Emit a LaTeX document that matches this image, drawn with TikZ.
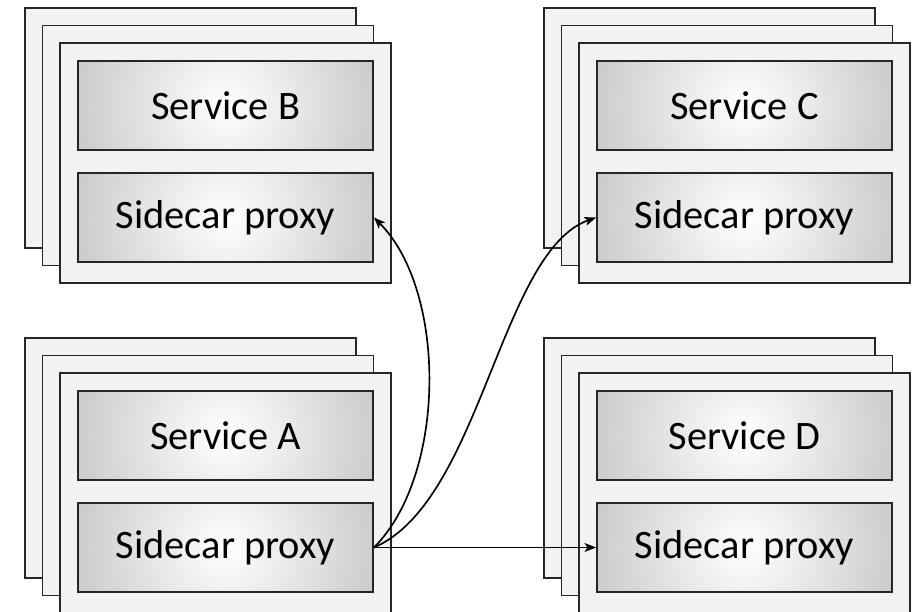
\documentclass[tikz,border=0pt]{standalone}
\usepackage{fontspec}
\setmainfont{Carlito}
\usetikzlibrary{arrows.meta}

\tikzset{
  card/.style={draw=black!85, fill=black!5, line width=1.1pt},
  unit/.style={draw=black!85, line width=1.1pt,
    minimum width=5.9cm, minimum height=1.78cm, inner sep=0pt,
    font=\fontsize{23}{28}\selectfont,
    path picture={\shade[inner color=white, outer color=black!36]
      (path picture bounding box.center) circle (270);}},
  link/.style={line width=0.95pt, -{Stealth[length=6.5pt,width=5pt,inset=1.6pt]}}
}

\begin{document}
\begin{tikzpicture}[x=0.02cm, y=-0.02cm, line join=miter]
  \clip (0,0) rectangle (918,611);
  % three stacked cards behind each service
  \foreach \sx/\sy in {25/8, 544/8, 25/338, 544/338}
    \foreach \d in {0,17.5,35}
      \draw[card] (\sx+\d,\sy+\d) rectangle +(331,240);

  \node[unit] (svcB) at (225.5,105.5) {Service B};
  \node[unit] (pxB)  at (225.5,217.5) {Sidecar proxy};
  \node[unit] (svcC) at (744.5,105.5) {Service C};
  \node[unit] (pxC)  at (744.5,217.5) {Sidecar proxy};
  \node[unit] (svcA) at (225.5,435.5) {Service A};
  \node[unit] (pxA)  at (225.5,547.5) {Sidecar proxy};
  \node[unit] (svcD) at (744.5,435.5) {Service D};
  \node[unit] (pxD)  at (744.5,547.5) {Sidecar proxy};

  % calls leaving the proxy of A
  \draw[link] (pxA.east) .. controls +(73,-73) and +(73,73) .. (pxB.east);
  \draw[link] (pxA.east) .. controls +(107,-46) and +(-96,34) .. (pxC.west);
  \draw[link] (pxA.east) -- (pxD.west);
\end{tikzpicture}
\end{document}
